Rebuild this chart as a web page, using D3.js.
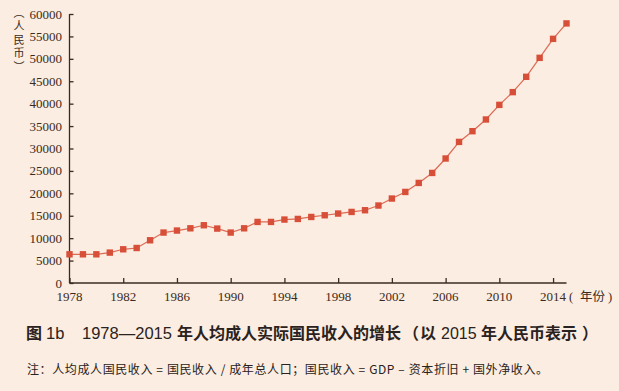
<!DOCTYPE html>
<html lang="zh">
<head>
    <meta charset="UTF-8">
    <title>1978—2015 年人均成人实际国民收入的增长</title>
    <style>
        body { margin: 0; background-color: #fbede1; }
        svg { display: block; background-color: #fbede1; }
    </style>
    <script src="https://d3js.org/d3.v7.min.js"></script>
</head>
<body>
    <svg width="619" height="391"></svg>
    <script>
        // data
        const years = d3.range(1978, 2016);
        const income = [
            6400, 6400, 6400, 6780, 7520, 7810, 9530, 11250, 11700, 12200,
            12880, 12140, 11250, 12200, 13620, 13620, 14150, 14290, 14730, 15110,
            15490, 15850, 16230, 17280, 18840, 20310, 22320, 24550, 27770, 31470,
            33860, 36470, 39730, 42570, 45990, 50220, 54460, 57900
        ];
        const xTicks = [1978, 1982, 1986, 1990, 1994, 1998, 2002, 2006, 2010, 2014];
        const yTicks = d3.range(0, 60001, 5000);

        const svg = d3.select("svg");
        const serif = "'Liberation Serif', 'Times New Roman', serif";
        const sans = "'Liberation Sans', Arial, sans-serif";
        const cjk = "'Noto Sans CJK SC', sans-serif";
        const ink = "#3b2a20";
        const red = "#d84f39";

        const x = d3.scaleLinear().domain([1978, 2015]).range([69.5, 566.5]);
        const y = d3.scaleLinear().domain([0, 60000]).range([283, 14]);

        // y axis
        const gy = svg.append("g")
            .attr("transform", "translate(69.5,0)")
            .call(d3.axisRight(y).tickValues(yTicks).tickSize(4).tickFormat(""));
        gy.selectAll("path, line").attr("stroke", ink).attr("stroke-width", 1.3);
        gy.select(".domain").attr("d", `M0,${y(60000)}V${y(0)}`);

        svg.append("g").selectAll("text")
            .data(yTicks)
            .join("text")
            .attr("x", 62)
            .attr("y", d => y(d) + 4.5)
            .attr("text-anchor", "end")
            .attr("font-family", serif)
            .attr("font-size", 13)
            .attr("fill", ink)
            .text(d => d);

        // x axis
        const gx = svg.append("g")
            .attr("transform", `translate(0,${y(0)})`)
            .call(d3.axisTop(x).tickValues(xTicks).tickSize(5).tickFormat(""));
        gx.selectAll("path, line").attr("stroke", ink).attr("stroke-width", 1.3);
        gx.select(".domain").attr("d", `M${x(1978)},0H${x(2015)}`);

        svg.append("g").selectAll("text")
            .data(xTicks)
            .join("text")
            .attr("x", d => x(d))
            .attr("y", 301)
            .attr("text-anchor", "middle")
            .attr("font-family", serif)
            .attr("font-size", 13)
            .attr("fill", ink)
            .text(d => d);

        const unitX = svg.append("text")
            .attr("y", 301)
            .attr("font-size", 12.5)
            .attr("fill", ink);
        unitX.append("tspan").attr("x", 569).attr("font-family", serif).text("(");
        unitX.append("tspan").attr("x", 580).attr("font-family", cjk).text("年份");
        unitX.append("tspan").attr("x", 608).attr("font-family", serif).text(")");

        // vertical unit label
        svg.append("text")
            .attr("x", 19)
            .attr("y", 7)
            .attr("font-family", cjk)
            .attr("font-size", 11)
            .attr("letter-spacing", 2.5)
            .attr("fill", ink)
            .style("writing-mode", "vertical-rl")
            .text("（人民币）");

        // line + markers
        const pts = years.map((yr, i) => [yr, income[i]]);
        svg.append("path")
            .datum(pts)
            .attr("fill", "none")
            .attr("stroke", "#dc6a55")
            .attr("stroke-width", 1.2)
            .attr("d", d3.line().x(d => x(d[0])).y(d => y(d[1])));

        svg.append("g").selectAll("rect")
            .data(pts)
            .join("rect")
            .attr("x", d => x(d[0]) - 3.2)
            .attr("y", d => y(d[1]) - 3.2)
            .attr("width", 6.4)
            .attr("height", 6.4)
            .attr("fill", red);

        // caption
        const cap = svg.append("text")
            .attr("y", 339)
            .attr("fill", "#2a2220");
        const capParts = [
            [26, "图", cjk, "bold", 16],
            [46, "1b", sans, "normal", 16.5],
            [82, "1978—2015", sans, "normal", 16.5],
            [177, "年人均成人实际国民收入的增长", cjk, "bold", 16],
            [403, "（", cjk, "bold", 16],
            [420, "以", cjk, "bold", 16],
            [441, "2015", sans, "normal", 16],
            [481, "年人民币表示", cjk, "bold", 16],
            [582, "）", cjk, "bold", 16]
        ];
        capParts.forEach(p => {
            cap.append("tspan")
                .attr("x", p[0])
                .attr("font-family", p[2])
                .attr("font-weight", p[3])
                .attr("font-size", p[4])
                .text(p[1]);
        });

        svg.append("text")
            .attr("x", 27)
            .attr("y", 374)
            .attr("font-family", cjk)
            .attr("font-size", 12)
            .attr("textLength", 521)
            .attr("lengthAdjust", "spacing")
            .attr("fill", "#2a2220")
            .text("注：人均成人国民收入 = 国民收入 / 成年总人口；国民收入 = GDP – 资本折旧 + 国外净收入。");
    </script>
</body>
</html>
